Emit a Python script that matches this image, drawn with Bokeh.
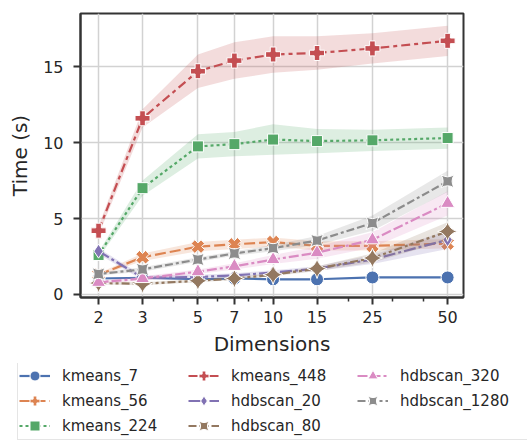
import numpy as np
from bokeh.plotting import figure
from bokeh.layouts import column, row
from bokeh.models import Range1d, FixedTicker, Legend, LegendItem, ColumnDataSource
from bokeh.embed import file_html
from bokeh.resources import INLINE

# ---- data ----
dims = [2, 3, 5, 7, 10, 15, 25, 50]
series_names = ["kmeans_7", "kmeans_56", "kmeans_224", "kmeans_448",
                "hdbscan_20", "hdbscan_80", "hdbscan_320", "hdbscan_1280"]

kmeans_7 = [1.05, 1.1, 1.0, 1.05, 1.0, 1.0, 1.12, 1.12]
kmeans_56 = [1.3, 2.45, 3.15, 3.3, 3.45, 3.2, 3.2, 3.35]
kmeans_224 = [2.6, 7.0, 9.75, 9.9, 10.2, 10.1, 10.15, 10.3]
kmeans_448 = [4.2, 11.6, 14.7, 15.4, 15.8, 15.9, 16.2, 16.7]
hdbscan_20 = [2.85, 1.1, 1.15, 1.25, 1.45, 1.7, 2.3, 3.6]
hdbscan_80 = [0.75, 0.7, 0.9, 1.05, 1.3, 1.7, 2.4, 4.15]
hdbscan_320 = [0.8, 1.05, 1.5, 1.85, 2.3, 2.75, 3.6, 6.0]
hdbscan_1280 = [1.35, 1.65, 2.3, 2.7, 3.05, 3.55, 4.7, 7.45]

# half-width of the shaded confidence bands
kmeans_7_ci = [0.05, 0.05, 0.05, 0.05, 0.05, 0.05, 0.05, 0.05]
kmeans_56_ci = [0.1, 0.25, 0.3, 0.3, 0.3, 0.3, 0.3, 0.3]
kmeans_224_ci = [0.2, 0.5, 0.8, 0.8, 1.0, 0.8, 0.7, 0.7]
kmeans_448_ci = [0.3, 0.6, 1.1, 1.2, 1.2, 1.1, 1.0, 1.0]
hdbscan_20_ci = [0.2, 0.15, 0.15, 0.15, 0.15, 0.15, 0.3, 0.6]
hdbscan_80_ci = [0.1, 0.1, 0.1, 0.1, 0.1, 0.15, 0.3, 0.6]
hdbscan_320_ci = [0.1, 0.15, 0.15, 0.2, 0.3, 0.4, 0.5, 0.8]
hdbscan_1280_ci = [0.1, 0.15, 0.15, 0.15, 0.2, 0.3, 0.5, 0.7]

x_ticks = [2, 3, 5, 7, 10, 15, 25, 50]
x_minor = [4, 6, 8, 9, 20, 30, 40]
y_ticks = [0, 5, 10, 15]

values = [kmeans_7, kmeans_56, kmeans_224, kmeans_448,
          hdbscan_20, hdbscan_80, hdbscan_320, hdbscan_1280]
cis = [kmeans_7_ci, kmeans_56_ci, kmeans_224_ci, kmeans_448_ci,
       hdbscan_20_ci, hdbscan_80_ci, hdbscan_320_ci, hdbscan_1280_ci]

# ---- styles ----
colors = ["#4C72B0", "#DD8452", "#55A868", "#C44E52",
          "#8172B3", "#937860", "#DA8BC3", "#8C8C8C"]
dashes = ["solid", "11 4", "3 3", "9 4 4 4",
          "12 3 3 3", "8 3 3 3 3 3", "10 3 10 3 3 3", "8 3 8 3 3 3"]
markers = ["circle", "plus", "square", "plus",
           "diamond", "square_pin", "triangle", "square_pin"]
angles = [0, np.pi / 4, 0, 0, 0, np.pi / 4, 0, 0]
msizes = [13, 14, 11, 15, 14, 14, 14, 13]

TEXT = "#262626"
FONT = "DejaVu Sans"

p = figure(width=527, height=363, x_axis_type="log",
           output_backend="svg", toolbar_location=None,
           x_range=Range1d(1.693, 57.9), y_range=Range1d(-0.2, 18.5),
           min_border_left=80, min_border_right=64,
           min_border_top=13, min_border_bottom=66)

p.background_fill_color = "white"
p.border_fill_color = "white"
p.outline_line_color = "#333333"
p.outline_line_width = 2

p.xaxis.ticker = FixedTicker(ticks=x_ticks, minor_ticks=x_minor)
p.xaxis.major_label_overrides = {t: str(t) for t in x_ticks}
p.yaxis.ticker = FixedTicker(ticks=y_ticks, minor_ticks=[])

for ax in (p.xaxis[0], p.yaxis[0]):
    ax.axis_line_color = "#333333"
    ax.axis_line_width = 2
    ax.major_tick_line_color = "#333333"
    ax.major_tick_line_width = 2
    ax.major_tick_out = 7
    ax.major_tick_in = 0
    ax.minor_tick_line_color = "#333333"
    ax.minor_tick_line_width = 1.5
    ax.minor_tick_out = 4
    ax.minor_tick_in = 0
    ax.major_label_text_font = FONT
    ax.major_label_text_font_size = "16px"
    ax.major_label_text_color = TEXT
    ax.axis_label_text_font = FONT
    ax.axis_label_text_font_size = "20px"
    ax.axis_label_text_font_style = "normal"
    ax.axis_label_text_color = TEXT

p.xaxis.axis_label = "Dimensions"
p.yaxis.axis_label = "Time (s)"
p.xaxis.major_label_standoff = 6
p.yaxis.major_label_standoff = 10
p.xaxis.axis_label_standoff = 6
p.yaxis.axis_label_standoff = 8

p.xgrid.grid_line_color = "#d2d2d2"
p.ygrid.grid_line_color = "#d2d2d2"
p.xgrid.grid_line_width = 1.5
p.ygrid.grid_line_width = 1.5

# legend-only figure placed under the chart (its ranges keep the data out of view)
q = figure(width=527, height=78, output_backend="svg", toolbar_location=None,
           x_range=Range1d(0, 1), y_range=Range1d(0, 1),
           x_axis_location=None, y_axis_location=None, min_border=0,
           min_border_left=0, min_border_right=0,
           min_border_top=0, min_border_bottom=0)
q.outline_line_color = None
q.grid.visible = False
q.background_fill_color = "white"
q.border_fill_color = "white"

items = []
for name, vals, ci, c, d, m, a, s in zip(series_names, values, cis, colors,
                                         dashes, markers, angles, msizes):
    v = np.array(vals)
    e = np.array(ci)
    src = ColumnDataSource(dict(x=dims, y=vals, lo=list(v - e), hi=list(v + e)))
    p.varea(x="x", y1="lo", y2="hi", source=src, fill_color=c, fill_alpha=0.2)
    p.line(x="x", y="y", source=src, line_color=c, line_width=2.2, line_dash=d)
    p.scatter(x="x", y="y", source=src, marker=m, angle=a, size=s,
              fill_color=c, line_color="white", line_width=1)
    ln = q.line(x="x", y="y", source=src, line_color=c, line_width=2.2,
                line_dash=d)
    sc = q.scatter(x="x", y="y", source=src, marker=m, angle=a, size=s,
                   fill_color=c, line_color="white", line_width=1)
    items.append(LegendItem(label=name, renderers=[ln, sc]))

legend = Legend(items=items, location=(17, 1), orientation="vertical",
                nrows=3)
legend.label_text_font = FONT
legend.label_text_font_size = "15px"
legend.label_text_color = TEXT
legend.glyph_width = 31
legend.glyph_height = 25
legend.label_height = 25
legend.label_width = 126
legend.label_standoff = 12
legend.spacing = 0
legend.padding = 1
legend.margin = 0
legend.border_line_color = "#cccccc"
legend.border_line_width = 1
legend.background_fill_color = "white"
legend.background_fill_alpha = 1
q.add_layout(legend, "center")

layout = column(p, row(q), spacing=0)
open("out.html", "w").write(file_html(layout, INLINE))
